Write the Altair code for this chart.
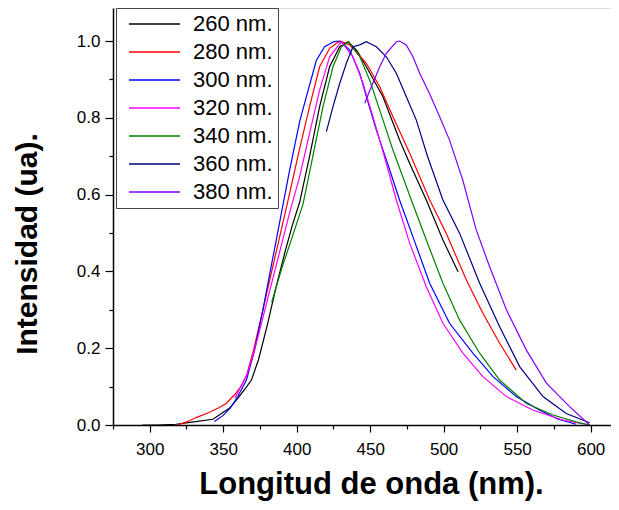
import altair as alt
import pandas as pd

series_labels = ["260 nm.", "280 nm.", "300 nm.", "320 nm.", "340 nm.", "360 nm.", "380 nm."]
series_colors = ["#000000", "#FF0000", "#0000FF", "#FF00FF", "#008000", "#000080", "#8000FF"]

wl_260 = [295, 305, 318, 330, 343, 354.4, 360, 365, 369.2, 374, 380, 386, 392, 397, 402, 408.8, 415.6,
          422.4, 429.3, 435, 441, 447.4, 458.7, 470, 476.9, 488.2, 499.5, 509.8]
int_260 = [0.0, 0.0, 0.002, 0.008, 0.015, 0.044, 0.07, 0.095, 0.117, 0.17, 0.26, 0.36, 0.45, 0.52, 0.58,
           0.70, 0.829, 0.933, 0.985, 0.998, 0.975, 0.933, 0.855, 0.742, 0.681, 0.586, 0.482, 0.399]

wl_280 = [319, 325, 332, 340, 347, 352, 358, 362, 366, 371, 377, 383, 389, 395, 402, 408.8, 415.6, 422.4,
          429.3, 436, 447.4, 456.5, 465.5, 476.9, 490.5, 501.8, 515.4, 526.7, 538.1, 549.4]
int_280 = [0.0, 0.008, 0.02, 0.032, 0.045, 0.056, 0.08, 0.1, 0.13, 0.2, 0.3, 0.4, 0.5, 0.6, 0.72, 0.83,
           0.933, 0.981, 1.0, 0.99, 0.942, 0.881, 0.803, 0.708, 0.586, 0.499, 0.378, 0.291, 0.213, 0.143]

wl_300 = [344, 350, 355, 360, 365.8, 371, 377, 383, 389, 395, 402, 406.6, 413.4, 419, 425, 428, 431, 436,
          442.9, 447.4, 454.2, 463.3, 470, 479.1, 490.5, 504, 519.9, 533.6, 549.4, 565.1, 578, 590]
int_300 = [0.009, 0.025, 0.045, 0.075, 0.117, 0.19, 0.3, 0.42, 0.54, 0.66, 0.79, 0.855, 0.95, 0.985,
           0.998, 1.0, 0.995, 0.977, 0.916, 0.855, 0.768, 0.664, 0.586, 0.49, 0.369, 0.265, 0.187, 0.126,
           0.074, 0.039, 0.015, 0.002]

wl_320 = [358, 362, 366, 371, 377, 383, 389, 395, 402, 408.8, 415.6, 422.4, 430.4, 438.3, 445.1, 451.9,
          461, 467.8, 476.9, 488.2, 499.5, 513.1, 526.7, 542.7, 560.6, 581, 599]
int_320 = [0.07, 0.1, 0.13, 0.19, 0.28, 0.37, 0.46, 0.55, 0.647, 0.76, 0.872, 0.959, 0.998, 0.959, 0.89,
           0.803, 0.681, 0.586, 0.473, 0.36, 0.265, 0.187, 0.126, 0.074, 0.039, 0.013, 0.0]

wl_340 = [383, 390, 397, 404.3, 411, 417.9, 424.7, 430.4, 435.5, 442.9, 449.7, 456.5, 465.5, 478, 488.2,
          499.5, 510.9, 524.5, 538.1, 556.3, 574.4, 590, 599.3]
int_340 = [0.32, 0.41, 0.49, 0.575, 0.70, 0.829, 0.933, 0.985, 0.998, 0.959, 0.898, 0.82, 0.716, 0.586,
           0.482, 0.369, 0.273, 0.187, 0.117, 0.056, 0.026, 0.008, 0.0]

wl_360 = [420.2, 424.7, 429.3, 433.8, 438.3, 442.9, 447.4, 454.2, 461, 467.8, 474.6, 481.4, 489, 499.5,
          510.9, 524.5, 538.1, 551.7, 567.6, 583.4, 599.3]
int_360 = [0.764, 0.829, 0.89, 0.942, 0.985, 0.99, 0.998, 0.985, 0.959, 0.916, 0.855, 0.794, 0.70, 0.586,
           0.499, 0.369, 0.256, 0.152, 0.074, 0.030, 0.006]

wl_380 = [446.3, 450.8, 456.5, 461, 467.8, 470, 474.6, 479.1, 483.7, 490.5, 497.3, 504, 513, 522, 531.3,
          542.7, 556.3, 569.9, 585.7, 599.3]
int_380 = [0.838, 0.881, 0.933, 0.968, 0.998, 1.0, 0.99, 0.959, 0.916, 0.862, 0.803, 0.742, 0.638, 0.51,
           0.412, 0.3, 0.195, 0.109, 0.048, 0.0]

x_ticks = [275 + 25 * i for i in range(14)]
y_ticks = [i / 10 for i in range(11)]

all_wl = [wl_260, wl_280, wl_300, wl_320, wl_340, wl_360, wl_380]
all_int = [int_260, int_280, int_300, int_320, int_340, int_360, int_380]

rows = []
for lab, wls, ints in zip(series_labels, all_wl, all_int):
    for w, v in zip(wls, ints):
        rows.append({"serie": lab, "wl": w, "inten": v})
df = pd.DataFrame(rows)

FONT = "Liberation Sans"

chart = alt.Chart(df).mark_line(strokeWidth=1.2, clip=True).encode(
    x=alt.X("wl:Q",
            scale=alt.Scale(domain=[275, 620], nice=False, zero=False),
            axis=alt.Axis(values=x_ticks,
                          labelExpr="datum.value % 50 == 0 ? datum.value : ''",
                          tickSize={"condition": {"test": "datum.value % 50 == 0", "value": 7}, "value": 4},
                          labelFontSize=17, labelPadding=9, labelFont=FONT, labelColor="black",
                          title="Longitud de onda (nm).", titleFontSize=31, titleFont=FONT,
                          titleFontWeight="bold", titleColor="black",
                          titleX=258, titleY=68, titleBaseline="alphabetic", titleAlign="center",
                          grid=False, domainColor="black", domainWidth=1.5,
                          tickColor="black", tickWidth=1.2)),
    y=alt.Y("inten:Q",
            scale=alt.Scale(domain=[0, 1.086], nice=False),
            axis=alt.Axis(values=y_ticks,
                          labelExpr="round(datum.value*10) % 2 == 0 ? format(datum.value, '.1f') : ''",
                          tickSize={"condition": {"test": "round(datum.value*10) % 2 == 0", "value": 8}, "value": 4},
                          labelFontSize=17, labelPadding=5, labelFont=FONT, labelColor="black",
                          title="Intensidad (ua).", titleFontSize=30, titleFont=FONT,
                          titleFontWeight="bold", titleColor="black",
                          titleX=-77, titleY=235.5, titleAngle=270, titleBaseline="alphabetic",
                          titleAlign="center",
                          grid=False, domainColor="black", domainWidth=1.5,
                          tickColor="black", tickWidth=1.2)),
    color=alt.Color("serie:N",
                    scale=alt.Scale(domain=series_labels, range=series_colors),
                    sort=series_labels,
                    title=None,
                    legend=alt.Legend(orient="none", legendX=3, legendY=0,
                                      symbolType="stroke", symbolSize=2601, symbolStrokeWidth=1.5,
                                      symbolOffset=7, clipHeight=22, rowPadding=6,
                                      labelFontSize=22, labelFont=FONT, labelColor="black",
                                      labelOffset=12, padding=5,
                                      strokeColor="#444444", fillColor="white")),
    order=alt.Order("wl:Q"),
).properties(
    width=507,
    height=417,
    autosize=alt.AutoSizeParams(type="none"),
    padding={"left": 105, "top": 0, "right": -9, "bottom": 77},
).configure_view(
    stroke="black", strokeWidth=1.5
).configure(background="white")

chart.save("out.html", embed_options={"renderer": "svg", "actions": False})
